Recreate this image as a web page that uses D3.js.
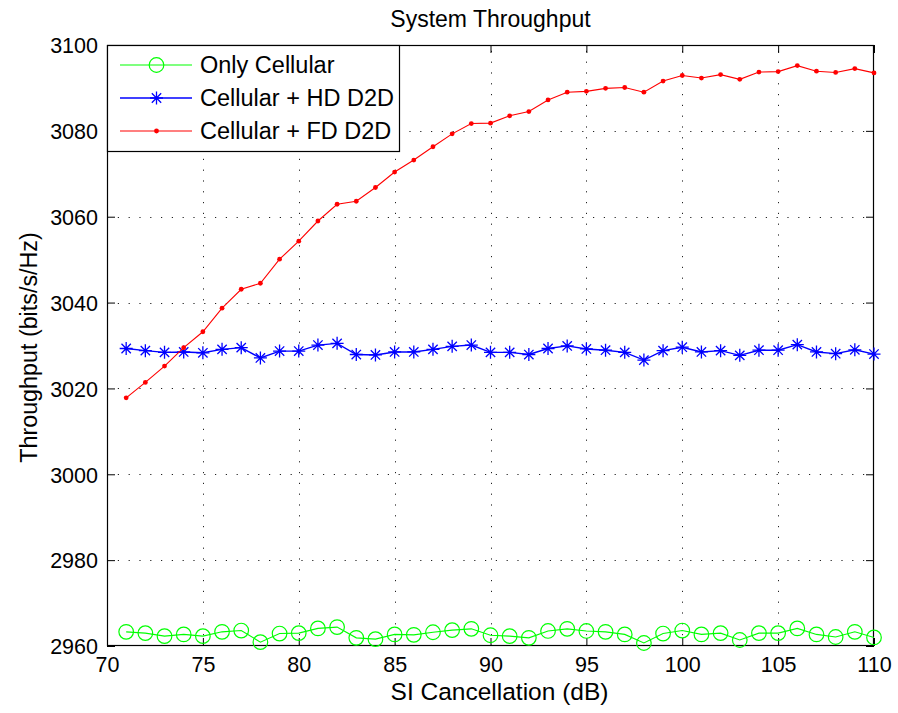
<!DOCTYPE html>
<html>
<head>
<meta charset="utf-8">
<script src="https://cdn.jsdelivr.net/npm/d3@7"></script>
<style>
  html, body { margin: 0; padding: 0; background: #fff; }
  svg { display: block; }
  text { font-family: "Liberation Sans", Arial, Helvetica, sans-serif; fill: #000; }
</style>
</head>
<body>
<svg id="chart" width="898" height="713"></svg>
<script>
// ---- data ----
const siCancellation = [71,72,73,74,75,76,77,78,79,80,81,82,83,84,85,86,87,88,89,90,
                        91,92,93,94,95,96,97,98,99,100,101,102,103,104,105,106,107,108,109,110];
const onlyCellular = [2963.3,2963.0,2962.3,2962.7,2962.3,2963.3,2963.6,2960.9,2962.9,2963.0,
                      2964.1,2964.4,2961.9,2961.6,2962.7,2962.6,2963.2,2963.7,2964.0,2962.5,
                      2962.3,2961.9,2963.5,2964.0,2963.5,2963.3,2962.7,2960.7,2962.9,2963.6,
                      2962.7,2963.0,2961.4,2963.0,2963.0,2964.1,2962.7,2962.1,2963.3,2962.0];
const cellularHD = [3029.3,3028.8,3028.4,3028.5,3028.3,3029.1,3029.5,3027.1,3028.7,3028.7,
                    3030.1,3030.5,3027.9,3027.8,3028.5,3028.5,3029.1,3029.8,3030.1,3028.4,
                    3028.4,3027.9,3029.3,3029.9,3029.2,3028.9,3028.4,3026.6,3028.8,3029.6,
                    3028.5,3028.8,3027.7,3028.9,3028.9,3030.2,3028.5,3028.1,3029.0,3028.0];
const cellularFD = [3017.8,3021.4,3025.2,3029.5,3033.2,3038.7,3043.1,3044.5,3050.1,3054.3,
                    3059.0,3062.9,3063.6,3066.8,3070.4,3073.2,3076.3,3079.3,3081.7,3081.8,
                    3083.5,3084.5,3087.2,3089.0,3089.2,3089.9,3090.1,3089.0,3091.6,3092.9,
                    3092.3,3093.1,3092.0,3093.7,3093.8,3095.2,3093.9,3093.6,3094.5,3093.5];
const seriesNames = ["Only Cellular", "Cellular + HD D2D", "Cellular + FD D2D"];
const xTicks = [70,75,80,85,90,95,100,105,110];
const yTicks = [2960,2980,3000,3020,3040,3060,3080,3100];
const titleText = "System Throughput";
const xLabelText = "SI Cancellation (dB)";
const yLabelText = "Throughput (bits/s/Hz)";

// ---- layout ----
const L = 107, R = 874, T = 45, B = 646;
const svg = d3.select("#chart");
const x = d3.scaleLinear().domain([70,110]).range([L,R]);
const y = d3.scaleLinear().domain([2960,3100]).range([B,T]);

// grid
const grid = svg.append("g").attr("stroke","#222").attr("stroke-width",1).attr("stroke-dasharray","1.2,9.6");
grid.selectAll(".vg").data(xTicks.slice(1,-1)).join("line")
  .attr("x1",d=>Math.round(x(d))+0.5).attr("x2",d=>Math.round(x(d))+0.5).attr("y1",B).attr("y2",T);
grid.selectAll(".hg").data(yTicks.slice(1,-1)).join("line")
  .attr("y1",d=>Math.round(y(d))+0.5).attr("y2",d=>Math.round(y(d))+0.5).attr("x1",L).attr("x2",R);

// axes (inward ticks on all sides)
const tickLen = 8;
const fmt = d3.format("d");
const axB = svg.append("g").attr("transform",`translate(0,${B})`)
  .call(d3.axisBottom(x).tickValues(xTicks).tickSize(-tickLen).tickPadding(11).tickFormat(fmt));
const axT = svg.append("g").attr("transform",`translate(0,${T})`)
  .call(d3.axisTop(x).tickValues(xTicks).tickSize(-tickLen).tickFormat(""));
const axL = svg.append("g").attr("transform",`translate(${L},0)`)
  .call(d3.axisLeft(y).tickValues(yTicks).tickSize(-tickLen).tickPadding(9).tickFormat(fmt));
const axR = svg.append("g").attr("transform",`translate(${R},0)`)
  .call(d3.axisRight(y).tickValues(yTicks).tickSize(-tickLen).tickFormat(""));
[axB,axT,axL,axR].forEach(a=>{
  a.select(".domain").remove();
  a.selectAll(".tick line").attr("stroke","#000");
  a.selectAll("text").style("font-size","21.5px").style("font-family",'"Liberation Sans", Arial, sans-serif');
});
axL.selectAll("text").attr("dy","0.36em");
axB.selectAll("text").attr("dy","0.71em");

// box
svg.append("rect").attr("x",L+0.5).attr("y",T+0.5).attr("width",R-L-1).attr("height",B-T-1)
  .attr("fill","none").attr("stroke","#000").attr("stroke-width",1.2);

// series
const line = vals => d3.line().x((d,i)=>x(siCancellation[i])).y(d=>y(d))(vals);

function asterisk(g, cx, cy, s, color) {
  const d = `M${cx},${cy-s}L${cx},${cy+s}M${cx-s},${cy}L${cx+s},${cy}` +
            `M${cx-s*0.72},${cy-s*0.72}L${cx+s*0.72},${cy+s*0.72}M${cx-s*0.72},${cy+s*0.72}L${cx+s*0.72},${cy-s*0.72}`;
  g.append("path").attr("d",d).attr("stroke",color).attr("stroke-width",1.3).attr("fill","none");
}

// green
svg.append("path").attr("d",line(onlyCellular)).attr("fill","none").attr("stroke","#00ff00").attr("stroke-width",1.1);
svg.append("g").selectAll("circle").data(onlyCellular).join("circle")
  .attr("cx",(d,i)=>x(siCancellation[i])).attr("cy",d=>y(d)).attr("r",7.3)
  .attr("fill","none").attr("stroke","#00ff00").attr("stroke-width",1.2);

// blue
svg.append("path").attr("d",line(cellularHD)).attr("fill","none").attr("stroke","#0000ff").attr("stroke-width",1.4);
const bg = svg.append("g");
cellularHD.forEach((d,i)=>asterisk(bg, x(siCancellation[i]), y(d), 6.5, "#0000ff"));

// red
svg.append("path").attr("d",line(cellularFD)).attr("fill","none").attr("stroke","#ff0000").attr("stroke-width",1.1);
svg.append("g").selectAll("circle").data(cellularFD).join("circle")
  .attr("cx",(d,i)=>x(siCancellation[i])).attr("cy",d=>y(d)).attr("r",2.4).attr("fill","#ff0000");

// legend
const lg = svg.append("g");
lg.append("rect").attr("x",107.5).attr("y",45.5).attr("width",292).attr("height",106)
  .attr("fill","#fff").attr("stroke","#000").attr("stroke-width",1.2);
const rows = [65, 98, 131];
const colors = ["#00ff00","#0000ff","#ff0000"];
rows.forEach((ry,i)=>{
  lg.append("line").attr("x1",120).attr("x2",192).attr("y1",ry).attr("y2",ry)
    .attr("stroke",colors[i]).attr("stroke-width",i===1?1.4:1.1);
  if (i===0) lg.append("circle").attr("cx",156.5).attr("cy",ry).attr("r",7.3).attr("fill","none").attr("stroke",colors[i]).attr("stroke-width",1.2);
  if (i===1) asterisk(lg,156.5,ry,6.5,colors[i]);
  if (i===2) lg.append("circle").attr("cx",156.5).attr("cy",ry).attr("r",2.4).attr("fill",colors[i]);
  lg.append("text").attr("x",200).attr("y",ry+8).style("font-size","23.5px").text(seriesNames[i]);
});

// titles
svg.append("text").attr("x",(L+R)/2).attr("y",27).attr("text-anchor","middle").style("font-size","23px").text(titleText);
svg.append("text").attr("x",(L+R)/2+9).attr("y",700).attr("text-anchor","middle").style("font-size","24.5px").text(xLabelText);
svg.append("text").attr("transform",`translate(37,${(T+B)/2+2}) rotate(-90)`).attr("text-anchor","middle").style("font-size","23.3px").text(yLabelText);
</script>
</body>
</html>
